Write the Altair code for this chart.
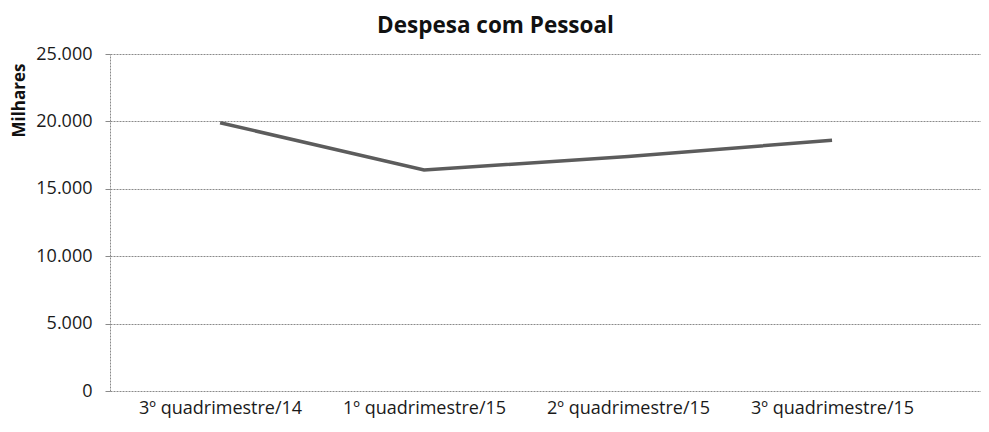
import altair as alt
import pandas as pd

categories = ["3º quadrimestre/14", "1º quadrimestre/15", "2º quadrimestre/15", "3º quadrimestre/15"]
values = [19900, 16400, 17400, 18600]

df = pd.DataFrame({"periodo": categories, "valor": values})

FONT = "Open Sans"

line = alt.Chart(df).mark_line(color="#5c5c5c", strokeWidth=3.5).encode(
    x=alt.X("periodo:N", sort=categories, title=None,
            scale=alt.Scale(type="point", padding=0.635, align=0.425),
            axis=alt.Axis(labelAngle=0, labelFont=FONT, labelFontSize=18, labelColor="#1a1a1a",
                          domain=False, ticks=False, grid=False, labelPadding=8)),
    y=alt.Y("valor:Q", title="Milhares",
            scale=alt.Scale(domain=[0, 25000]),
            axis=alt.Axis(values=[0, 5000, 10000, 15000, 20000, 25000],
                          labelExpr="replace(format(datum.value, ','), ',', '.')",
                          labelFont=FONT, labelFontSize=18, labelColor="#1a1a1a",
                          titleFont=FONT, titleFontSize=17, titleFontWeight="bold", titleColor="#111",
                          titleX=-82, titleY=46, titleAlign="center", titleBaseline="bottom",
                          titleAngle=270,
                          grid=True, gridColor="#8a8a8a", gridDash=[2, 1], gridWidth=1,
                          domain=True, domainColor="#8a8a8a", domainDash=[2, 1],
                          ticks=True, tickColor="#8a8a8a", tickSize=5, labelPadding=13)),
)

chart = line.properties(
    width=871, height=337,
    padding={"left": 102, "top": 46, "right": 0, "bottom": 33},
    autosize=alt.AutoSizeParams(type="none"),
    title=alt.TitleParams("Despesa com Pessoal", font=FONT, fontSize=22.5, fontWeight="bold",
                          color="#111", anchor="middle", offset=8, dx=-50),
    background="white",
).configure_view(stroke=None)

chart.save("out.html", embed_options={"renderer": "svg", "actions": False})
